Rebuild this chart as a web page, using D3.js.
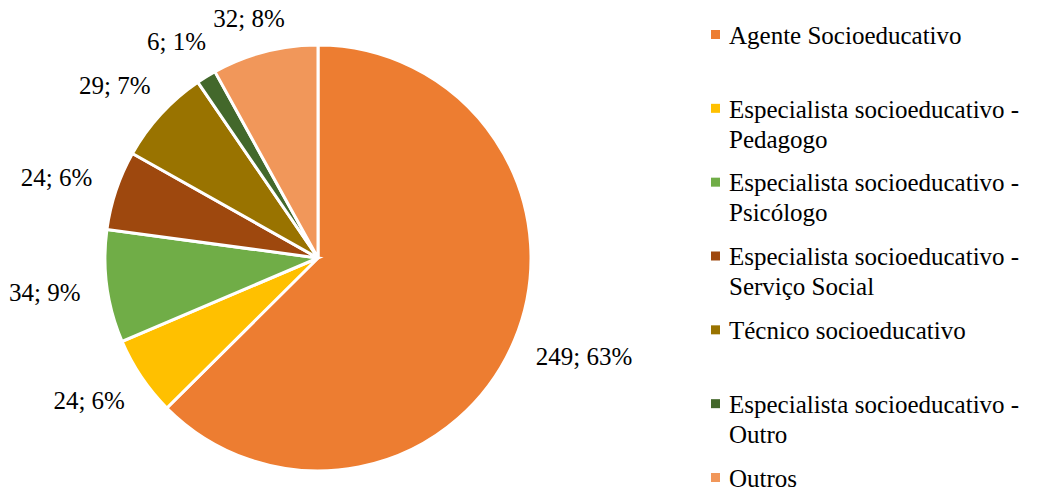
<!DOCTYPE html>
<html>
<head>
<meta charset="utf-8">
<script src="https://cdn.jsdelivr.net/npm/d3@7"></script>
</head>
<body style="margin:0">
<script>
// chart data
var categories = [
  "Agente Socioeducativo",
  "Especialista socioeducativo - Pedagogo",
  "Especialista socioeducativo - Psicólogo",
  "Especialista socioeducativo - Serviço Social",
  "Técnico socioeducativo",
  "Especialista socioeducativo - Outro",
  "Outros"
];
var counts = [249, 24, 34, 24, 29, 6, 32];
var percents = [63, 6, 9, 6, 7, 1, 8];
var colors = ["#ED7D31", "#FFC000", "#70AD47", "#9E480E", "#997300", "#43682B", "#F1975A"];

// dimensions
var width = 1040,
    height = 491,
    cx = 318,
    cy = 258,
    radius = 213,
    fontSize = 25;

var svg = d3.select("body")
  .append("svg")
    .attr("width", width)
    .attr("height", height);

var g = svg.append("g")
    .attr("transform", "translate(" + cx + "," + cy + ")");

var color = d3.scaleOrdinal()
    .domain(categories)
    .range(colors);

var data = categories.map(function(c, i) {
  return {key: c, value: counts[i], pct: percents[i]};
});

var pie = d3.pie()
  .sort(null)
  .value(function(d) { return d.value; });
var data_ready = pie(data);

var arc = d3.arc()
  .innerRadius(0)
  .outerRadius(radius);

// anchor point for the labels, a bit outside the pie
var labelArc = d3.arc()
  .innerRadius(radius + 27)
  .outerRadius(radius + 27);

g.selectAll("path.slice")
  .data(data_ready)
  .enter()
  .append("path")
    .attr("class", "slice")
    .attr("d", arc)
    .attr("fill", function(d) { return color(d.data.key); })
    .attr("stroke", "#fff")
    .style("stroke-width", "3px");

// "outside end" labels: push the label box away from the pie along its angle
// (box width estimated from Times-like glyph widths)
function labelWidth(s) {
  var w = 0;
  for (var i = 0; i < s.length; i++) {
    var c = s[i];
    w += /[0-9]/.test(c) ? 0.5 : c === "%" ? 0.833 : c === ";" ? 0.278 : 0.25;
  }
  return w * fontSize;
}

g.selectAll("text.lbl")
  .data(data_ready)
  .enter()
  .append("text")
    .attr("class", "lbl")
    .attr("dy", "0.35em")
    .style("font-family", "'Liberation Serif'")
    .style("font-size", fontSize + "px")
    .style("text-anchor", "middle")
    .text(function(d) { return d.data.value + "; " + d.data.pct + "%"; })
    .attr("transform", function(d) {
      var p = labelArc.centroid(d);
      var a = (d.startAngle + d.endAngle) / 2;
      var w = labelWidth(d.data.value + "; " + d.data.pct + "%");
      var h = fontSize * 1.2;
      var x = p[0] + Math.sin(a) * w / 2;
      var y = p[1] - Math.cos(a) * h / 2;
      y = Math.max(y, -cy + h * 0.6);
      return "translate(" + x + "," + y + ")";
    });

// legend
var ly = d3.scalePoint()
    .domain(categories)
    .range([35, 478]);

var legend = svg.selectAll("g.leg")
  .data(data)
  .enter()
  .append("g")
    .attr("class", "leg")
    .attr("transform", function(d) { return "translate(711," + ly(d.key) + ")"; });

legend.append("rect")
    .attr("x", 0)
    .attr("y", -5)
    .attr("width", 9)
    .attr("height", 9)
    .attr("fill", function(d) { return color(d.key); });

legend.append("text")
    .attr("x", 18)
    .attr("y", 0)
    .style("font-family", "'Liberation Serif'")
    .style("font-size", fontSize + "px")
    .each(function(d) {
      var parts = d.key.split(" - ");
      var lines = parts.length > 1 ? [parts[0] + " -", parts[1]] : [d.key];
      var t = d3.select(this);
      lines.forEach(function(line, i) {
        t.append("tspan")
          .attr("x", 18)
          .attr("dy", i === 0 ? "0.35em" : "1.2em")
          .text(line);
      });
    });
</script>
</body>
</html>
